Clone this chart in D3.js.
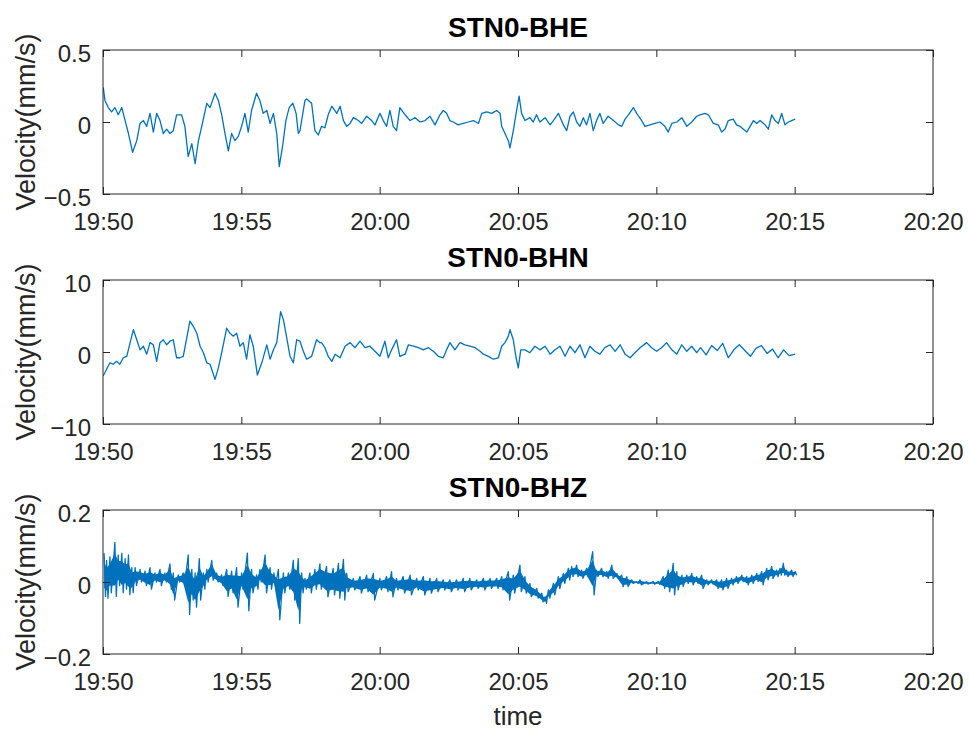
<!DOCTYPE html>
<html>
<head>
<meta charset="utf-8">
<script src="https://cdn.jsdelivr.net/npm/d3@7"></script>
<style>
  body { margin: 0; background: #fff; }
  svg { display: block; font-family: "Liberation Sans", Arial, Helvetica, sans-serif; }
</style>
</head>
<body>
<svg id="chart" width="969" height="733"></svg>
<script>
// minutes after 19:50, velocity (mm/s)
const bhe = [
  [0.01,0.24],[0.07,0.15],[0.19,0.10],[0.31,0.07],[0.43,0.10],[0.55,0.05],[0.68,0.10],[0.80,0.01],
  [0.92,-0.08],[1.07,-0.21],[1.22,-0.13],[1.34,-0.01],[1.46,0.01],[1.58,-0.03],[1.70,0.06],[1.82,-0.07],
  [1.94,0.06],[2.06,0.01],[2.18,-0.08],[2.30,-0.05],[2.42,-0.08],[2.54,-0.06],[2.66,0.05],[2.84,0.05],
  [2.96,-0.03],[3.08,-0.24],[3.21,-0.15],[3.33,-0.29],[3.45,-0.13],[3.57,-0.03],[3.75,0.13],[3.87,0.10],
  [4.05,0.20],[4.17,0.15],[4.29,0.05],[4.41,-0.08],[4.53,-0.20],[4.65,-0.08],[4.77,-0.13],[4.89,-0.10],
  [5.01,-0.03],[5.13,0.06],[5.25,-0.07],[5.37,0.08],[5.55,0.20],[5.67,0.15],[5.79,0.06],[5.92,0.08],
  [6.04,-0.01],[6.16,0.06],[6.28,-0.08],[6.37,-0.31],[6.49,-0.17],[6.61,0.01],[6.73,0.10],[6.86,0.13],
  [6.98,0.06],[7.06,-0.08],[7.12,-0.06],[7.30,0.15],[7.36,0.16],[7.54,0.13],[7.66,-0.06],[7.78,-0.09],
  [7.90,-0.03],[8.02,-0.04],[8.14,0.05],[8.27,0.11],[8.45,0.06],[8.57,0.11],[8.69,0.01],[8.81,-0.03],
  [8.93,-0.01],[9.05,0.03],[9.23,0.01],[9.35,-0.01],[9.53,0.04],[9.71,0.01],[9.83,-0.02],[10.01,0.06],
  [10.13,0.01],[10.25,-0.03],[10.37,0.08],[10.49,-0.03],[10.61,-0.06],[10.73,0.10],[10.92,0.05],[11.10,0.01],
  [11.28,0.03],[11.46,0.00],[11.64,0.01],[11.82,0.04],[12.00,-0.02],[12.18,0.05],[12.30,0.08],[12.42,0.06],
  [12.54,0.01],[12.66,0.00],[12.84,-0.02],[13.02,-0.01],[13.20,0.00],[13.39,0.01],[13.57,-0.01],[13.69,0.06],
  [13.87,0.07],[14.05,0.06],[14.23,0.08],[14.35,0.06],[14.41,-0.03],[14.53,-0.08],[14.65,-0.13],[14.71,-0.18],
  [14.83,-0.06],[14.95,0.08],[15.04,0.18],[15.13,0.06],[15.25,0.01],[15.43,0.03],[15.55,0.00],[15.67,0.05],
  [15.79,0.00],[15.98,0.03],[16.16,-0.02],[16.28,0.01],[16.46,0.06],[16.64,-0.02],[16.76,-0.06],[16.88,0.04],
  [17.00,0.07],[17.12,0.00],[17.24,-0.03],[17.36,0.03],[17.48,-0.02],[17.60,0.06],[17.72,-0.06],[17.84,0.01],
  [17.96,0.06],[18.08,-0.01],[18.26,0.04],[18.45,0.01],[18.63,-0.02],[18.75,-0.03],[18.87,0.02],[18.99,0.05],
  [19.17,0.10],[19.29,0.06],[19.47,0.01],[19.59,-0.03],[19.77,-0.02],[19.95,-0.01],[20.13,0.00],[20.31,-0.03],
  [20.43,-0.07],[20.56,-0.01],[20.74,0.00],[20.92,0.03],[21.10,-0.03],[21.28,0.00],[21.46,0.04],[21.58,0.05],
  [21.76,0.06],[21.88,0.05],[22.06,-0.01],[22.24,-0.02],[22.36,-0.07],[22.48,-0.05],[22.60,0.01],[22.78,0.02],
  [22.90,-0.02],[23.02,-0.03],[23.27,-0.07],[23.39,-0.03],[23.51,0.01],[23.63,-0.01],[23.75,0.01],[23.93,-0.02],
  [24.05,-0.05],[24.17,0.05],[24.29,0.01],[24.41,-0.01],[24.53,0.06],[24.65,-0.02],[24.77,0.00],[24.89,0.01],
  [25.02,0.02]
]

const bhn = [
  [0.01,-3.3],[0.13,-2.4],[0.25,-1.5],[0.37,-1.7],[0.49,-1.3],[0.61,-1.7],[0.73,-0.8],[0.86,-0.6],
  [0.98,1.3],[1.10,3.1],[1.22,1.7],[1.34,0.3],[1.46,0.8],[1.58,-0.3],[1.70,1.3],[1.82,1.0],
  [1.94,-1.3],[2.06,1.3],[2.18,1.7],[2.30,1.0],[2.42,1.5],[2.54,1.7],[2.66,-0.8],[2.78,-0.8],
  [2.90,-0.6],[3.03,2.0],[3.14,4.3],[3.26,3.6],[3.39,2.6],[3.51,0.8],[3.63,-0.1],[3.75,-1.5],
  [3.87,-1.7],[4.05,-3.8],[4.17,-2.2],[4.29,-0.1],[4.47,3.3],[4.59,2.6],[4.71,2.2],[4.83,2.6],
  [4.95,0.8],[5.07,1.3],[5.19,-1.0],[5.31,2.4],[5.43,0.8],[5.58,-3.2],[5.74,-1.5],[5.92,1.0],
  [6.04,-1.0],[6.16,0.3],[6.28,1.3],[6.42,5.6],[6.52,4.5],[6.64,2.0],[6.76,-0.6],[6.88,-1.5],
  [7.00,1.7],[7.12,1.5],[7.24,0.1],[7.36,-1.0],[7.54,-0.6],[7.72,1.7],[7.84,1.3],[7.90,1.3],
  [8.02,0.6],[8.14,-0.6],[8.27,-1.3],[8.39,-0.3],[8.57,-0.8],[8.75,0.8],[8.93,1.3],[9.11,0.6],
  [9.29,1.5],[9.47,0.6],[9.65,0.8],[9.83,0.1],[10.01,-0.6],[10.19,1.5],[10.31,-0.8],[10.43,0.3],
  [10.61,1.7],[10.73,-0.6],[10.92,-0.3],[11.04,1.0],[11.22,0.8],[11.40,0.6],[11.58,0.3],[11.76,0.6],
  [11.94,0.1],[12.12,-0.6],[12.30,-0.8],[12.42,0.3],[12.54,1.3],[12.72,0.3],[12.90,1.3],[13.08,1.0],
  [13.26,0.8],[13.45,0.6],[13.63,0.1],[13.75,-0.3],[13.93,-0.6],[14.11,-1.0],[14.29,-0.8],[14.41,0.8],
  [14.53,1.3],[14.65,2.2],[14.71,3.1],[14.83,1.7],[14.93,-0.8],[15.01,-2.2],[15.10,0.3],[15.25,0.3],
  [15.43,-0.1],[15.61,0.8],[15.79,0.3],[15.98,0.8],[16.16,-0.3],[16.34,0.3],[16.52,0.8],[16.70,-0.6],
  [16.88,0.8],[17.06,-0.1],[17.24,1.0],[17.42,-0.8],[17.60,0.8],[17.78,0.1],[17.96,-0.3],[18.14,0.6],
  [18.33,1.0],[18.51,0.1],[18.69,1.0],[18.87,-0.3],[19.05,-0.8],[19.23,-0.1],[19.41,0.6],[19.65,1.3],
  [19.83,0.6],[20.01,0.1],[20.19,0.6],[20.37,1.3],[20.56,0.3],[20.74,-0.3],[20.92,1.0],[21.10,0.1],
  [21.28,0.8],[21.46,-0.1],[21.60,0.6],[21.80,-0.4],[22.00,0.9],[22.20,0.2],[22.40,1.2],[22.60,-0.8],
  [22.80,0.3],[23.00,1.0],[23.20,0.2],[23.40,-0.6],[23.60,0.5],[23.80,0.9],[24.00,-0.2],[24.20,0.4],
  [24.40,-0.8],[24.60,0.3],[24.80,-0.5],[25.02,-0.3]
]

// minutes after 19:50, upper and lower excursion of the noisy trace
const bhz = [
  [0.04,0.08,-0.04],[0.13,0.06,-0.045],[0.25,0.07,-0.03],[0.43,0.11,-0.04],[0.55,0.075,-0.01],[0.68,0.08,-0.03],
  [0.80,0.065,-0.02],[0.92,0.075,-0.035],[1.04,0.04,-0.03],[1.16,0.04,-0.01],[1.34,0.035,0.0],[1.52,0.03,-0.01],
  [1.70,0.04,-0.02],[1.88,0.025,0.0],[2.06,0.035,-0.01],[2.24,0.025,0.0],[2.42,0.05,-0.02],[2.54,0.025,-0.05],
  [2.72,0.02,0.0],[2.90,0.025,-0.01],[3.08,0.075,-0.09],[3.21,0.035,-0.05],[3.33,0.025,-0.07],[3.48,0.065,-0.05],
  [3.63,0.025,-0.02],[3.75,0.035,0.0],[3.93,0.06,0.005],[4.11,0.025,0.0],[4.29,0.02,-0.01],[4.47,0.035,-0.04],
  [4.65,0.03,-0.03],[4.83,0.04,-0.07],[5.01,0.025,-0.02],[5.22,0.08,-0.08],[5.37,0.035,-0.03],[5.55,0.02,-0.02],
  [5.67,0.035,0.0],[5.86,0.075,-0.03],[6.04,0.04,-0.02],[6.18,0.025,-0.01],[6.34,0.035,-0.105],[6.52,0.025,-0.03],
  [6.70,0.025,-0.02],[6.88,0.06,-0.05],[7.06,0.065,-0.115],[7.18,0.025,-0.03],[7.30,0.01,-0.02],[7.48,0.025,-0.03],
  [7.66,0.035,-0.02],[7.84,0.05,-0.02],[8.08,0.043,-0.041],[8.32,0.038,-0.036],[8.51,0.052,-0.045],[8.69,0.063,-0.05],
  [8.81,0.024,-0.027],[9.05,0.010,-0.022],[9.29,0.015,-0.031],[9.53,0.019,-0.027],[9.77,0.024,-0.05],[10.01,0.010,-0.022],
  [10.25,0.015,-0.027],[10.43,0.029,-0.041],[10.61,0.010,-0.022],[10.85,0.015,-0.031],[11.10,0.019,-0.036],[11.34,0.010,-0.022],
  [11.58,0.015,-0.036],[11.82,0.010,-0.031],[12.06,0.010,-0.027],[12.30,0.006,-0.022],[12.54,0.006,-0.027],[12.78,0.006,-0.022],
  [13.02,0.010,-0.027],[13.26,0.010,-0.022],[13.51,0.006,-0.018],[13.75,0.010,-0.022],[13.99,0.010,-0.018],[14.23,0.010,-0.018],
  [14.41,0.015,-0.022],[14.65,0.029,-0.05],[14.83,0.019,-0.031],[15.07,0.047,-0.027],[15.25,0.015,-0.031],[15.43,-0.004,-0.041],
  [15.68,-0.018,-0.045],[15.86,-0.031,-0.055],[15.98,-0.041,-0.059],[16.10,-0.022,-0.045],[16.28,-0.004,-0.036],[16.46,0.015,-0.018],
  [16.64,0.024,-0.004],[16.82,0.038,0.006],[16.94,0.043,0.015],[17.12,0.047,0.015],[17.30,0.033,0.010],[17.48,0.038,0.015],
  [17.70,0.084,-0.036],[17.84,0.033,0.015],[18.02,0.038,0.015],[18.21,0.029,0.010],[18.39,0.047,0.010],[18.57,0.024,0.010],
  [18.75,0.019,-0.013],[18.93,0.015,-0.013],[19.11,0.006,-0.004],[19.29,0.001,-0.004],[19.41,0.006,-0.008],[19.65,0.001,-0.006],
  [19.89,0.001,-0.006],[20.07,0.001,-0.006],[20.25,0.015,-0.018],[20.43,0.033,-0.027],[20.61,0.052,-0.036],[20.74,0.029,-0.022],
  [20.92,0.019,-0.013],[21.10,0.019,-0.004],[21.28,0.024,-0.008],[21.46,0.015,-0.004],[21.64,0.019,-0.018],[21.82,0.006,-0.008],
  [22.00,0.006,-0.006],[22.18,0.006,-0.018],[22.36,0.006,-0.022],[22.54,0.010,-0.018],[22.72,0.010,-0.008],[22.90,0.015,-0.004],
  [23.09,0.019,0.001],[23.27,0.015,-0.008],[23.45,0.019,-0.004],[23.63,0.024,0.001],[23.81,0.029,-0.008],[23.99,0.038,0.006],
  [24.17,0.043,0.010],[24.35,0.033,0.015],[24.47,0.038,0.019],[24.59,0.052,0.019],[24.71,0.033,0.015],[24.89,0.033,0.015],
  [25.02,0.029,0.019]
]

const titles = ['STN0-BHE', 'STN0-BHN', 'STN0-BHZ']
const yDomains = [[-0.5, 0.5], [-10, 10], [-0.2, 0.2]]
const yTicks = [[-0.5, 0, 0.5], [-10, 0, 10], [-0.2, 0, 0.2]]
const yLabel = 'Velocity(mm/s)'
const xLabel = 'time'

const lineColor = '#0072bd'
const axisColor = '#262626'
const left = 103
const right = 933
const panelTops = [50, 280, 510]
const panelH = 144
const tickLen = 7

const t0 = new Date(2000, 0, 1, 19, 50)
const t1 = new Date(2000, 0, 1, 20, 20)
const toDate = (m) => new Date(t0.getTime() + m * 60000)

const svg = d3.select('#chart')

const x = d3.scaleTime().domain([t0, t1]).range([0, right - left])
const xTickVals = d3.timeMinute.every(5).range(t0, new Date(t1.getTime() + 1))
const fmt = d3.timeFormat('%H:%M')

// BHZ drawn as a zigzag between its upper and lower excursions
const bhzZig = []
bhz.forEach((d) => {
  bhzZig.push([d[0], d[1]])
  bhzZig.push([d[0] + 0.05, d[2]])
})

const series = [bhe, bhn, bhzZig]

series.forEach((data, i) => {
  const g = svg.append('g')
    .attr('transform', `translate(${left},${panelTops[i]})`)

  const y = d3.scaleLinear().domain(yDomains[i]).range([panelH, 0])

  svg.append('clipPath').attr('id', 'clip' + i)
    .append('rect').attr('width', right - left).attr('height', panelH)

  if (i === 2) {
    // dense core of the vertical component
    g.append('path')
      .datum(bhz)
      .attr('clip-path', `url(#clip${i})`)
      .attr('fill', lineColor)
      .attr('d', d3.area()
        .x((d) => x(toDate(d[0])))
        .y0((d) => y(d[2] + (d[1] - d[2]) * 0.2))
        .y1((d) => y(d[1] - (d[1] - d[2]) * 0.2)))
  }

  g.append('path')
    .datum(data)
    .attr('clip-path', `url(#clip${i})`)
    .attr('fill', 'none')
    .attr('stroke', lineColor)
    .attr('stroke-width', 1.3)
    .attr('stroke-linejoin', 'round')
    .attr('d', d3.line()
      .x((d) => x(toDate(d[0])))
      .y((d) => y(d[1])))

  // axes with inward ticks on all four sides
  const xb = g.append('g').attr('transform', `translate(0,${panelH})`)
    .call(d3.axisBottom(x).tickValues(xTickVals).tickFormat(fmt).tickSize(-tickLen))
  xb.selectAll('text')
    .attr('y', 36).attr('dy', null)
    .attr('font-size', 24).attr('fill', axisColor)

  g.append('g')
    .call(d3.axisTop(x).tickValues(xTickVals).tickFormat('').tickSize(-tickLen))

  const yl = g.append('g')
    .call(d3.axisLeft(y).tickValues(yTicks[i]).tickFormat(d3.format('')).tickSize(-tickLen))
  yl.selectAll('text')
    .attr('x', -12).attr('dy', null).attr('y', 11)
    .attr('font-size', 24).attr('fill', axisColor)

  g.append('g').attr('transform', `translate(${right - left},0)`)
    .call(d3.axisRight(y).tickValues(yTicks[i]).tickFormat('').tickSize(-tickLen))

  g.selectAll('.domain').remove()
  g.selectAll('.tick line').attr('stroke', axisColor)

  g.append('rect')
    .attr('width', right - left).attr('height', panelH)
    .attr('fill', 'none').attr('stroke', axisColor).attr('stroke-width', 1)

  g.append('text')
    .attr('x', (right - left) / 2).attr('y', -13)
    .attr('text-anchor', 'middle')
    .attr('font-size', 28).attr('font-weight', 'bold').attr('fill', '#000')
    .text(titles[i])

  svg.append('text')
    .attr('transform', `translate(35,${panelTops[i] + panelH / 2}) rotate(-90)`)
    .attr('text-anchor', 'middle')
    .attr('font-size', 27).attr('fill', axisColor)
    .text(yLabel)
})

svg.append('text')
  .attr('x', (left + right) / 2).attr('y', panelTops[2] + panelH + 71)
  .attr('text-anchor', 'middle')
  .attr('font-size', 26).attr('fill', axisColor)
  .text(xLabel)
</script>
</body>
</html>
